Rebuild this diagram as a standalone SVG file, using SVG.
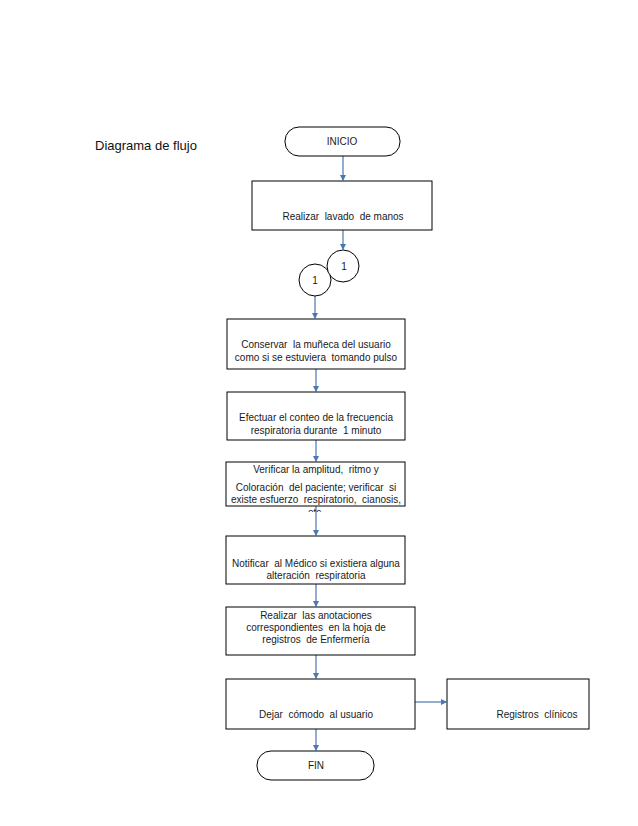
<svg xmlns="http://www.w3.org/2000/svg" width="638" height="826" viewBox="0 0 638 826">
<defs>
<marker id="ah" markerWidth="6" markerHeight="6" refX="5" refY="3" orient="auto" markerUnits="userSpaceOnUse">
<path d="M0,0 L6,3 L0,6 Z" fill="#4a78b0"/>
</marker>
<clipPath id="clipEtc"><rect x="220" y="508" width="200" height="4"/></clipPath>
</defs>
<style>
.box{fill:#fff;stroke:#000;stroke-width:1}
.t{font-family:"Liberation Sans",Arial,sans-serif;font-size:10px;fill:#1a1a1a;text-anchor:middle;white-space:pre}
.c{stroke:#4a78b0;stroke-width:1.2;fill:none}
</style>
<rect width="638" height="826" fill="#fff"/>
<text x="95" y="150" font-family="Liberation Sans, Arial, sans-serif" font-size="13" fill="#111">Diagrama de flujo</text>
<g id="connectors">
<line class="c" x1="343" y1="156" x2="343" y2="180" marker-end="url(#ah)"/>
<line class="c" x1="343" y1="230" x2="343" y2="249" marker-end="url(#ah)"/>
<line class="c" x1="315" y1="296" x2="315" y2="318" marker-end="url(#ah)"/>
<line class="c" x1="316" y1="369" x2="316" y2="391" marker-end="url(#ah)"/>
<line class="c" x1="316" y1="440" x2="316" y2="461" marker-end="url(#ah)"/>
<line class="c" x1="316" y1="506" x2="316" y2="535" marker-end="url(#ah)"/>
<line class="c" x1="316" y1="584" x2="316" y2="606" marker-end="url(#ah)"/>
<line class="c" x1="316" y1="655" x2="316" y2="678" marker-end="url(#ah)"/>
<line class="c" x1="415" y1="702" x2="446" y2="702" marker-end="url(#ah)"/>
<line class="c" x1="316" y1="729" x2="316" y2="750" marker-end="url(#ah)"/>
</g>
<g id="inicio">
<rect class="box" x="285" y="127" width="115" height="29" rx="14" ry="14"/>
<text class="t" x="342" y="145">INICIO</text>
</g>
<g id="lavado">
<rect class="box" x="252" y="181" width="180" height="49"/>
<text class="t" x="343" y="220">Realizar  lavado  de manos</text>
</g>
<g id="conector1b">
<circle class="box" cx="315" cy="280" r="16"/>
<text class="t" x="315" y="284">1</text>
</g>
<g id="conector1a">
<circle class="box" cx="343" cy="266" r="16"/>
<text class="t" x="344" y="270">1</text>
</g>
<g id="conservar">
<rect class="box" x="227" y="319" width="178" height="50"/>
<text class="t" x="316" y="348">Conservar  la muñeca del usuario</text>
<text class="t" x="316" y="361">como si se estuviera  tomando pulso</text>
</g>
<g id="efectuar">
<rect class="box" x="227" y="392" width="178" height="48"/>
<text class="t" x="316" y="421">Efectuar el conteo de la frecuencia</text>
<text class="t" x="316" y="434">respiratoria durante  1 minuto</text>
</g>
<g id="verificar">
<rect class="box" x="226" y="462" width="179" height="44"/>
<text class="t" x="316" y="473">Verificar la amplitud,  ritmo y</text>
<text class="t" x="316" y="491">Coloración  del paciente; verificar  si</text>
<text class="t" x="316" y="503">existe esfuerzo  respiratorio,  cianosis,</text>
<text class="t" x="316" y="516" clip-path="url(#clipEtc)">etc.</text>
</g>
<g id="notificar">
<rect class="box" x="226" y="536" width="179" height="48"/>
<text class="t" x="316" y="567">Notificar  al Médico si existiera alguna</text>
<text class="t" x="316" y="579">alteración  respiratoria</text>
</g>
<g id="anotaciones">
<rect class="box" x="226" y="607" width="189" height="48"/>
<text class="t" x="316" y="619">Realizar  las anotaciones</text>
<text class="t" x="316" y="631">correspondientes  en la hoja de</text>
<text class="t" x="316" y="643">registros  de Enfermería</text>
</g>
<g id="comodo">
<rect class="box" x="226" y="679" width="189" height="50"/>
<text class="t" x="316" y="718">Dejar  cómodo  al usuario</text>
</g>
<g id="registros">
<rect class="box" x="447" y="679" width="142" height="50"/>
<text class="t" x="537" y="718">Registros  clínicos</text>
</g>
<g id="fin">
<rect class="box" x="257" y="751" width="117" height="29" rx="14" ry="14"/>
<text class="t" x="316" y="769">FIN</text>
</g>
</svg>
